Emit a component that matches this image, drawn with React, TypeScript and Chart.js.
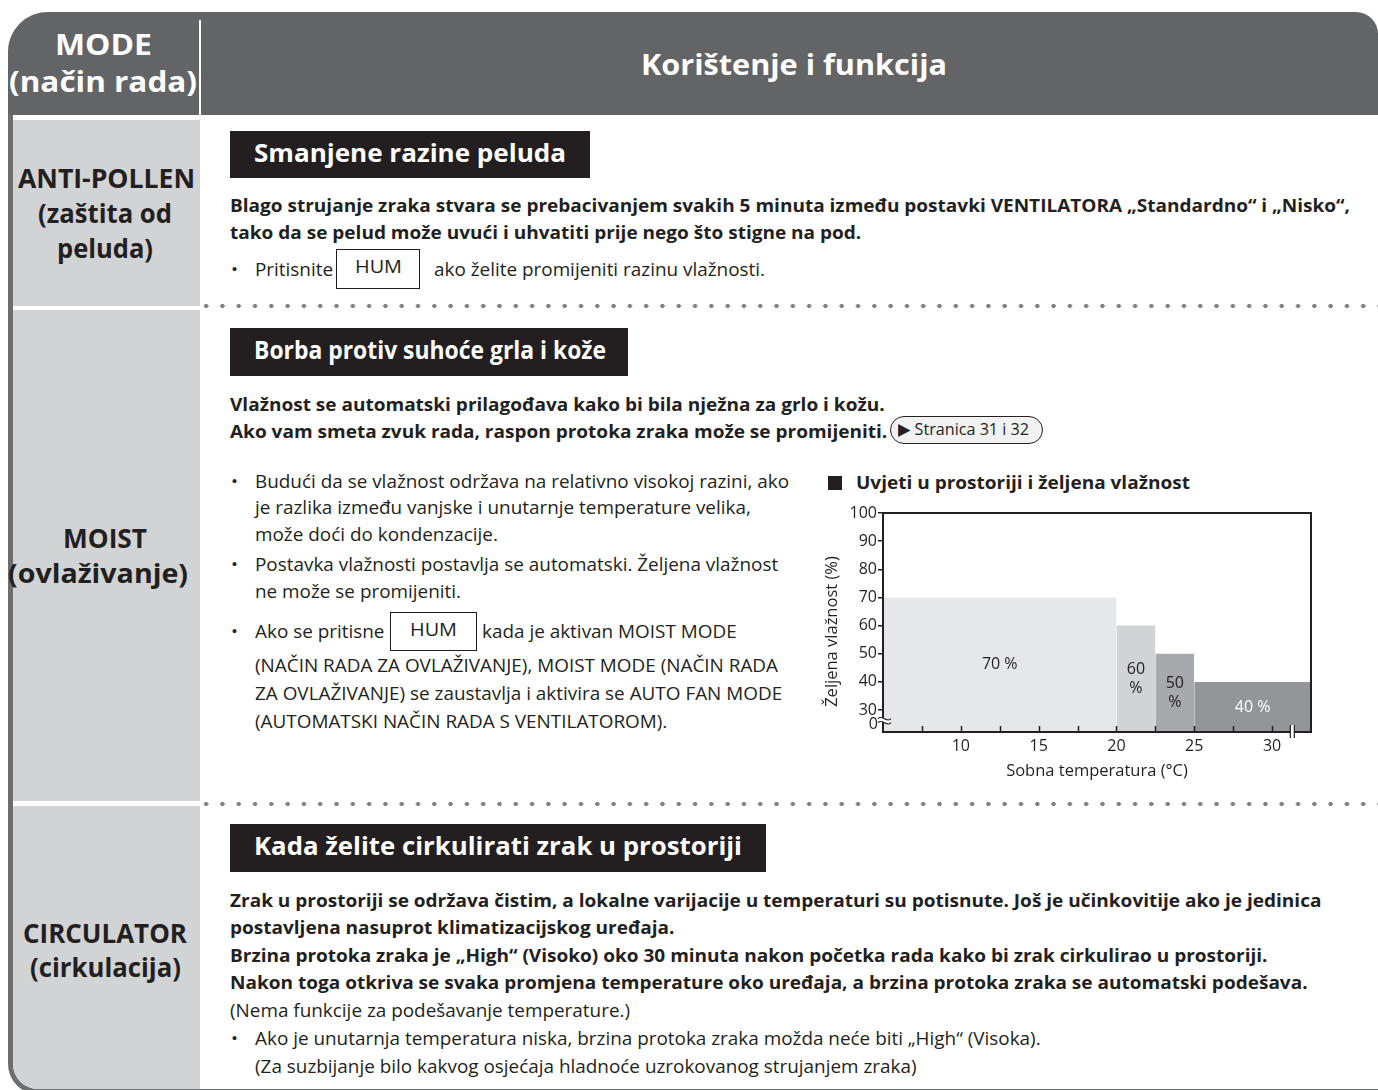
import React, { useEffect, useLayoutEffect, useRef } from 'react';
import { Chart, registerables } from 'chart.js';

Chart.register(...registerables);

const FONT = "'Open Sans', 'Noto Sans', 'DejaVu Sans', sans-serif";
const INK = '#231f20';

// ---- chart data ----
const bandStart = [5, 20, 22.5, 25];
const bandEnd = [20, 22.5, 25, 32.5];
const humidityPct = [70, 60, 50, 40];
const bandLabelLines = [['70 %'], ['60', '%'], ['50', '%'], ['40 %']];
const bandColors = ['#e6e7e8', '#d1d3d4', '#a7a9ac', '#939598'];
const bandTextColors = [INK, INK, INK, '#ffffff'];
const xTickValues = [5, 7.5, 10, 12.5, 15, 17.5, 20, 22.5, 25, 27.5, 30, 32.5];
const xLabelValues = [10, 15, 20, 25, 30];
const yTickValues = [30, 40, 50, 60, 70, 80, 90, 100];
const yZeroAt = 24.9; // broken axis: this position stands for "0"
const yZeroLabel = '0';
const X_MIN = 5;
const X_MAX = 32.5;
const Y_MIN = 22.2;
const Y_MAX = 100;
const xBreakAt = 31.3;
const yBreakAt = 26.2;
const xTitle = 'Sobna temperatura (°C)';
const yTitle = 'Željena vlažnost (%)';

const overlayPlugin = {
  id: 'overlay',
  afterDatasetsDraw(chart: any) {
    const { ctx, chartArea: a, scales } = chart;
    const xs = scales.x;
    const ys = scales.y;
    ctx.save();
    // labels inside bands
    ctx.font = `16px ${FONT}`;
    ctx.textAlign = 'center';
    ctx.textBaseline = 'middle';
    humidityPct.forEach((h, i) => {
      const cx = xs.getPixelForValue((bandStart[i] + bandEnd[i]) / 2);
      const cy = ys.getPixelForValue((Y_MIN + h) / 2);
      const lines = bandLabelLines[i];
      ctx.fillStyle = bandTextColors[i];
      lines.forEach((t, j) => ctx.fillText(t, cx, cy + (j - (lines.length - 1) / 2) * 19));
    });
    // y title (rotated)
    ctx.save();
    ctx.fillStyle = INK;
    ctx.font = `16.5px ${FONT}`;
    ctx.translate(a.left - 51, (a.top + a.bottom) / 2 + 9);
    ctx.rotate(-Math.PI / 2);
    ctx.fillText(yTitle, 0, 0);
    ctx.restore();
    // frame
    ctx.strokeStyle = INK;
    ctx.lineWidth = 2;
    ctx.strokeRect(a.left, a.top, a.right - a.left, a.bottom - a.top);
    // inward x ticks
    ctx.lineWidth = 1.5;
    xTickValues.forEach((v) => {
      if (v <= X_MIN || v >= X_MAX) return;
      const px = Math.round(xs.getPixelForValue(v)) + 0.5;
      ctx.beginPath();
      ctx.moveTo(px, a.bottom);
      ctx.lineTo(px, a.bottom - 6);
      ctx.stroke();
    });
    // x axis break
    const bx = xs.getPixelForValue(xBreakAt);
    ctx.fillStyle = '#ffffff';
    ctx.fillRect(bx - 2, a.bottom - 7, 4, 13);
    ctx.lineWidth = 1.2;
    [-2, 2].forEach((d) => {
      ctx.beginPath();
      ctx.moveTo(bx + d, a.bottom - 7);
      ctx.lineTo(bx + d, a.bottom + 6);
      ctx.stroke();
    });
    // y axis break squiggle
    const by = ys.getPixelForValue(yBreakAt);
    const lx = a.left + 1;
    const curve = (off: number) => {
      ctx.moveTo(lx - 6, by - 2 + off);
      ctx.bezierCurveTo(lx - 2, by - 7 + off, lx + 3, by + 3 + off, lx + 7, by - 2 + off);
    };
    ctx.beginPath();
    curve(0);
    ctx.lineTo(lx + 7, by + 2);
    ctx.bezierCurveTo(lx + 3, by + 7, lx - 2, by - 3, lx - 6, by + 2);
    ctx.closePath();
    ctx.fillStyle = '#ffffff';
    ctx.fill();
    ctx.strokeStyle = INK;
    ctx.lineWidth = 1.2;
    ctx.beginPath();
    curve(0);
    ctx.stroke();
    ctx.beginPath();
    curve(4);
    ctx.stroke();
    // "0" of the broken y axis
    ctx.fillStyle = INK;
    ctx.font = `16px ${FONT}`;
    ctx.textAlign = 'right';
    ctx.textBaseline = 'middle';
    ctx.fillText(yZeroLabel, a.left - 5, ys.getPixelForValue(yZeroAt));
    ctx.restore();
  },
};

function HumidityChart() {
  const ref = useRef<HTMLCanvasElement>(null);
  useEffect(() => {
    if (!ref.current) return;
    const tickFont = { family: FONT, size: 16 };
    const chart = new Chart(ref.current, {
      type: 'line',
      data: {
        datasets: humidityPct.map((h, i) => ({
          data: [
            { x: bandStart[i], y: h },
            { x: bandEnd[i], y: h },
          ],
          fill: 'start',
          backgroundColor: bandColors[i],
          borderColor: 'rgba(0,0,0,0)',
          borderWidth: 0,
          pointRadius: 0,
          tension: 0,
        })),
      },
      options: {
        animation: false,
        responsive: false,
        devicePixelRatio: 1,
        layout: { padding: { top: 13, right: 9, left: 0, bottom: 0 } },
        plugins: { legend: { display: false }, tooltip: { enabled: false } },
        scales: {
          x: {
            type: 'linear',
            min: X_MIN,
            max: X_MAX,
            afterBuildTicks: (s: any) => {
              s.ticks = xTickValues.map((v) => ({ value: v }));
            },
            afterFit: (s: any) => {
              s.height = 53;
            },
            ticks: {
              autoSkip: false,
              maxRotation: 0,
              padding: 5,
              color: INK,
              font: tickFont,
              callback: (v: any) => (xLabelValues.includes(Number(v)) ? String(v) : ''),
            },
            grid: { display: false, drawTicks: false },
            border: { display: false },
            title: {
              display: true,
              text: xTitle,
              color: INK,
              font: { family: FONT, size: 16.5 },
              padding: { top: 0, bottom: 4 },
            },
          },
          y: {
            type: 'linear',
            min: Y_MIN,
            max: Y_MAX,
            afterBuildTicks: (s: any) => {
              s.ticks = yTickValues.map((v) => ({ value: v }));
            },
            afterFit: (s: any) => {
              s.width = 63;
            },
            ticks: {
              autoSkip: false,
              padding: 1,
              color: INK,
              font: tickFont,
              callback: (v: any) => String(v),
            },
            grid: {
              drawOnChartArea: false,
              drawTicks: true,
              tickLength: 5,
              lineWidth: 1.5,
              color: INK,
            },
            border: { display: false },
            title: { display: false },
          },
        },
      },
      plugins: [overlayPlugin],
    } as any);
    return () => chart.destroy();
  }, []);
  return (
    <canvas
      ref={ref}
      width={500}
      height={285}
      style={{ position: 'absolute', left: 820, top: 500, width: 500, height: 285 }}
    />
  );
}

// ---- text styles: each style is scaled so that one reference line keeps the reference width ----
const STYLES: Record<string, { size: number; weight: number; ref: string; target: number }> = {
  reg: { size: 17.5, weight: 400, ref: 'Budući da se vlažnost održava na relativno visokoj razini, ako', target: 534 },
  bold: {
    size: 17.5,
    weight: 700,
    ref: 'Blago strujanje zraka stvara se prebacivanjem svakih 5 minuta između postavki VENTILATORA „Standardno“ i „Nisko“,',
    target: 1120,
  },
};

let measureCtx: CanvasRenderingContext2D | null = null;
function styleScale(k: string) {
  const s = STYLES[k];
  if (!measureCtx) measureCtx = document.createElement('canvas').getContext('2d');
  if (!measureCtx) return 1;
  measureCtx.font = `${s.weight} ${s.size}px ${FONT}`;
  const w = measureCtx.measureText(s.ref).width;
  return w > 0 ? s.target / w : 1;
}

type LineProps = {
  x: number;
  y: number;
  w?: number;
  k?: string;
  size?: number;
  weight?: number;
  color?: string;
  center?: boolean;
  children: React.ReactNode;
};

function L({ x, y, w, k, size, weight, color = INK, center = false, children }: LineProps) {
  const ref = useRef<HTMLSpanElement>(null);
  const st = k ? STYLES[k] : null;
  const fs = size ?? (st ? st.size : 17.5);
  const fw = weight ?? (st ? st.weight : 400);
  useLayoutEffect(() => {
    const el = ref.current;
    if (!el) return;
    if (k) {
      el.style.transform = `scaleX(${styleScale(k)})`;
      return;
    }
    el.style.transform = 'none';
    const nat = el.getBoundingClientRect().width;
    if (nat > 0 && w) el.style.transform = `scaleX(${w / nat})`;
  }, [w, k]);
  const lh = Math.round(fs * 1.25);
  return (
    <span
      ref={ref}
      style={{
        position: 'absolute',
        left: center && w ? x - w / 2 : x,
        top: Math.round(y - fs * 0.705),
        fontSize: fs,
        lineHeight: `${lh}px`,
        fontWeight: fw,
        color,
        whiteSpace: 'nowrap',
        fontFamily: FONT,
        transformOrigin: 'left center',
        display: 'block',
      }}
    >
      {children}
    </span>
  );
}

const Box = (p: { x: number; y: number; w: number; h: number; bg?: string; border?: string; radius?: number | string }) => (
  <div
    style={{
      position: 'absolute',
      left: p.x,
      top: p.y,
      width: p.w,
      height: p.h,
      background: p.bg || 'transparent',
      border: p.border,
      borderRadius: p.radius,
      boxSizing: 'border-box',
    }}
  />
);

const Dots = ({ y }: { y: number }) => (
  <div
    style={{
      position: 'absolute',
      left: 198,
      top: y - 3,
      width: 1180,
      height: 6,
      backgroundImage: 'radial-gradient(circle, #808285 1.9px, rgba(128,130,133,0) 2.4px)',
      backgroundSize: '16.3px 6px',
      backgroundRepeat: 'repeat-x',
    }}
  />
);

const Bullet = ({ y }: { y: number }) => (
  <L x={231} y={y} w={7} size={17}>
    •
  </L>
);

const TitleBar = ({ x, y, w, h, tw, text }: { x: number; y: number; w: number; h: number; tw: number; text: string }) => (
  <>
    <Box x={x} y={y} w={w} h={h} bg={INK} />
    <L x={x + 24} y={y + h / 2} w={tw} size={25} weight={700} color="#ffffff">
      {text}
    </L>
  </>
);

export default function App() {
  return (
    <div
      style={{
        position: 'absolute',
        left: 0,
        top: 0,
        width: 1378,
        height: 1090,
        overflow: 'hidden',
        background: '#ffffff',
        fontFamily: FONT,
      }}
    >
      {/* outer frame */}
      <div
        style={{
          position: 'absolute',
          left: 8,
          top: 12,
          width: 1400,
          height: 1082,
          borderLeft: '5px solid #6d6e70',
          borderBottom: '5px solid #6d6e70',
          borderRadius: '40px 0 0 30px',
          boxSizing: 'border-box',
        }}
      />
      {/* header */}
      <div
        style={{
          position: 'absolute',
          left: 8,
          top: 12,
          width: 1370,
          height: 103,
          background: '#636466',
          borderRadius: '40px 22px 0 0',
        }}
      />
      <Box x={199} y={20} w={2} h={95} bg="#ffffff" />
      <L x={103} y={46} w={97} size={29} weight={700} color="#ffffff" center>
        MODE
      </L>
      <L x={103} y={83} w={188} size={29} weight={700} color="#ffffff" center>
        (način rada)
      </L>
      <L x={794} y={66} w={306} size={29} weight={700} color="#ffffff" center>
        Korištenje i funkcija
      </L>

      {/* left column */}
      <Box x={13} y={120} w={187} h={186} bg="#d1d3d4" />
      <Box x={13} y={310} w={187} h={491} bg="#d1d3d4" />
      <div
        style={{
          position: 'absolute',
          left: 13,
          top: 806,
          width: 187,
          height: 283,
          background: '#d1d3d4',
          borderBottomLeftRadius: 25,
        }}
      />
      <L x={106} y={180} w={177} size={27} weight={700} center>
        ANTI-POLLEN
      </L>
      <L x={105} y={215} w={134} size={27} weight={700} center>
        (zaštita od
      </L>
      <L x={105} y={250} w={96} size={27} weight={700} center>
        peluda)
      </L>
      <L x={105} y={540} w={84} size={27} weight={700} center>
        MOIST
      </L>
      <L x={98} y={575} w={180} size={27} weight={700} center>
        (ovlaživanje)
      </L>
      <L x={105} y={935} w={164} size={27} weight={700} center>
        CIRCULATOR
      </L>
      <L x={105} y={969} w={151} size={27} weight={700} center>
        (cirkulacija)
      </L>

      <Dots y={306} />
      <Dots y={804} />

      {/* row 1 */}
      <TitleBar x={230} y={131} w={360} h={47} tw={312} text="Smanjene razine peluda" />
      <L x={230} y={206} k="bold">
        Blago strujanje zraka stvara se prebacivanjem svakih 5 minuta između postavki VENTILATORA „Standardno“ i „Nisko“,
      </L>
      <L x={230} y={233} k="bold">
        tako da se pelud može uvući i uhvatiti prije nego što stigne na pod.
      </L>
      <Bullet y={270} />
      <L x={255} y={270} k="reg">
        Pritisnite
      </L>
      <Box x={336} y={249} w={84} h={40} border={`1.3px solid ${INK}`} />
      <L x={378} y={268} w={47} size={18} weight={500} center>
        HUM
      </L>
      <L x={434} y={270} k="reg">
        ako želite promijeniti razinu vlažnosti.
      </L>

      {/* row 2 */}
      <TitleBar x={230} y={328} w={398} h={48} tw={352} text="Borba protiv suhoće grla i kože" />
      <L x={230} y={405} k="bold">
        Vlažnost se automatski prilagođava kako bi bila nježna za grlo i kožu.
      </L>
      <L x={230} y={432} k="bold">
        Ako vam smeta zvuk rada, raspon protoka zraka može se promijeniti.
      </L>
      <Box x={890} y={416} w={153} h={28} bg="#f1f1f2" border={`1.5px solid ${INK}`} radius={14} />
      <L x={898} y={430} w={131} size={17}>
        ▶ Stranica 31 i 32
      </L>

      <Bullet y={482} />
      <L x={255} y={482} k="reg">
        Budući da se vlažnost održava na relativno visokoj razini, ako
      </L>
      <L x={255} y={508} k="reg">
        je razlika između vanjske i unutarnje temperature velika,
      </L>
      <L x={255} y={535} k="reg">
        može doći do kondenzacije.
      </L>
      <Bullet y={565} />
      <L x={255} y={565} k="reg">
        Postavka vlažnosti postavlja se automatski. Željena vlažnost
      </L>
      <L x={255} y={592} k="reg">
        ne može se promijeniti.
      </L>
      <Bullet y={632} />
      <L x={255} y={632} k="reg">
        Ako se pritisne
      </L>
      <Box x={390} y={612} w={87} h={39} border={`1.3px solid ${INK}`} />
      <L x={433} y={631} w={47} size={18} weight={500} center>
        HUM
      </L>
      <L x={482} y={632} k="reg">
        kada je aktivan MOIST MODE
      </L>
      <L x={255} y={666} k="reg">
        (NAČIN RADA ZA OVLAŽIVANJE), MOIST MODE (NAČIN RADA
      </L>
      <L x={255} y={694} k="reg">
        ZA OVLAŽIVANJE) se zaustavlja i aktivira se AUTO FAN MODE
      </L>
      <L x={255} y={722} k="reg">
        (AUTOMATSKI NAČIN RADA S VENTILATOROM).
      </L>

      {/* chart */}
      <Box x={828} y={476} w={14} h={14} bg={INK} />
      <L x={856} y={483} k="bold">
        Uvjeti u prostoriji i željena vlažnost
      </L>
      <HumidityChart />

      {/* row 3 */}
      <TitleBar x={230} y={824} w={536} h={48} tw={488} text="Kada želite cirkulirati zrak u prostoriji" />
      <L x={230} y={901} k="bold">
        Zrak u prostoriji se održava čistim, a lokalne varijacije u temperaturi su potisnute. Još je učinkovitije ako je jedinica
      </L>
      <L x={230} y={928} k="bold">
        postavljena nasuprot klimatizacijskog uređaja.
      </L>
      <L x={230} y={956} k="bold">
        Brzina protoka zraka je „High“ (Visoko) oko 30 minuta nakon početka rada kako bi zrak cirkulirao u prostoriji.
      </L>
      <L x={230} y={983} k="bold">
        Nakon toga otkriva se svaka promjena temperature oko uređaja, a brzina protoka zraka se automatski podešava.
      </L>
      <L x={230} y={1011} k="reg">
        (Nema funkcije za podešavanje temperature.)
      </L>
      <Bullet y={1039} />
      <L x={255} y={1039} k="reg">
        Ako je unutarnja temperatura niska, brzina protoka zraka možda neće biti „High“ (Visoka).
      </L>
      <L x={255} y={1067} k="reg">
        (Za suzbijanje bilo kakvog osjećaja hladnoće uzrokovanog strujanjem zraka)
      </L>
    </div>
  );
}
